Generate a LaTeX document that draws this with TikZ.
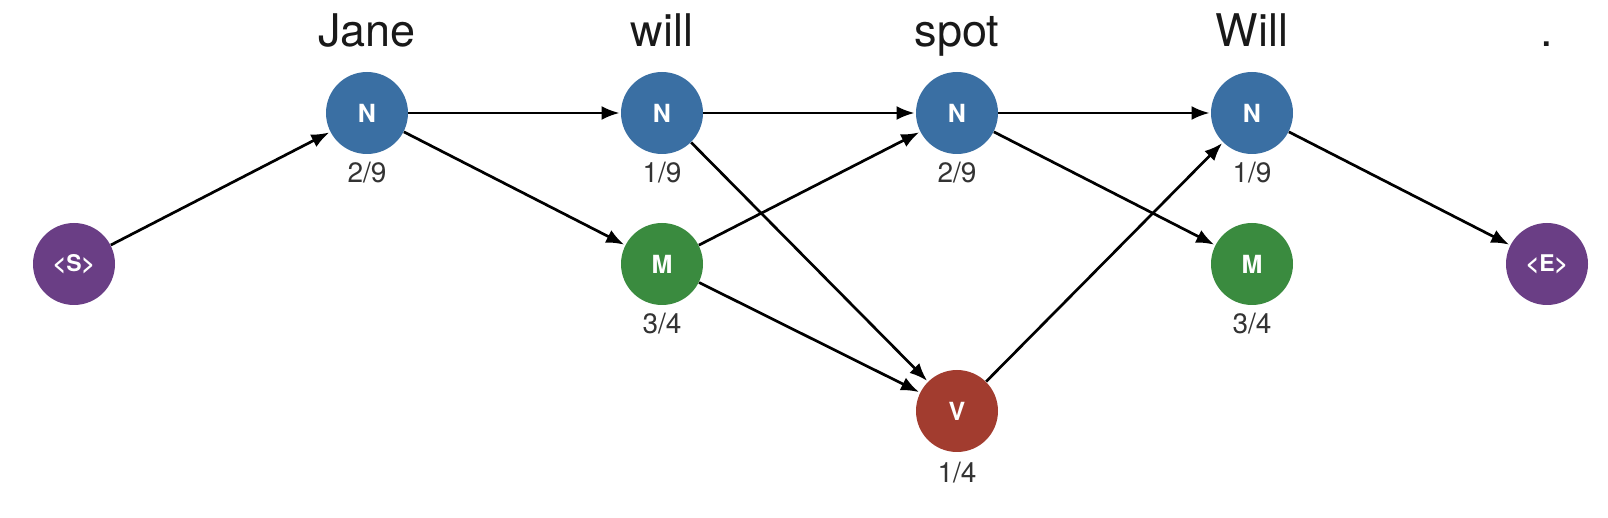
\documentclass[tikz,border=0pt]{standalone}
\usepackage{fontspec}
\setmainfont{TeX Gyre Heros}
\usetikzlibrary{arrows.meta}
\definecolor{cblue}{HTML}{3A6FA3}
\definecolor{cgreen}{HTML}{3A8B3F}
\definecolor{cred}{HTML}{A23C2F}
\definecolor{cpurple}{HTML}{6A3E85}
\definecolor{clabel}{HTML}{333333}
\tikzset{
  st/.style={circle, minimum size=41pt, inner sep=0pt, text=white, font=\fontsize{12.5}{12.5}\selectfont\bfseries},
  nn/.style={st, fill=cblue},
  mm/.style={st, fill=cgreen},
  vv/.style={st, fill=cred},
  ee/.style={st, fill=cpurple, font=\fontsize{11.5}{11.5}\selectfont\bfseries},
  word/.style={anchor=base, font=\fontsize{22.5}{22.5}\selectfont, text=black!90},
  prob/.style={anchor=base, font=\fontsize{14}{14}\selectfont, text=clabel},
  edge/.style={-{Latex[length=9pt,width=7pt]}, line width=1.35pt, black, shorten >=0.5pt}
}
\begin{document}
\begin{tikzpicture}[x=0.5pt,y=-0.5pt]
\useasboundingbox (0,0) rectangle (1608,518);
% words
\node[word] (w1) at (367,47) {Jane};
\node[word] (w2) at (662,47) {will};
\node[word] (w3) at (957,47) {spot};
\node[word] (w4) at (1252,47) {Will};
\node[word] (w5) at (1547,47) {.};
% nodes
\node[ee] (S) at (74,264) {<S>};
\node[nn] (JN) at (367,113) {N};
\node[nn] (wN) at (662,113) {N};
\node[mm] (wM) at (662,264) {M};
\node[nn] (sN) at (957,113) {N};
\node[vv] (sV) at (957,411) {V};
\node[nn] (WN) at (1252,113) {N};
\node[mm] (WM) at (1252,264) {M};
\node[ee] (E) at (1547,264) {<E>};
% probabilities
\node[prob] (p1) at (367,183) {2/9};
\node[prob] (p2) at (662,183) {1/9};
\node[prob] (p3) at (662,334) {3/4};
\node[prob] (p4) at (957,183) {2/9};
\node[prob] (p5) at (957,482) {1/4};
\node[prob] (p6) at (1252,183) {1/9};
\node[prob] (p7) at (1252,334) {3/4};
% edges
\draw[edge] (S) -- (JN);
\draw[edge] (JN) -- (wN);
\draw[edge] (JN) -- (wM);
\draw[edge] (wN) -- (sN);
\draw[edge] (wN) -- (sV);
\draw[edge] (wM) -- (sN);
\draw[edge] (wM) -- (sV);
\draw[edge] (sN) -- (WN);
\draw[edge] (sN) -- (WM);
\draw[edge] (sV) -- (WN);
\draw[edge] (WN) -- (E);
\end{tikzpicture}
\end{document}
